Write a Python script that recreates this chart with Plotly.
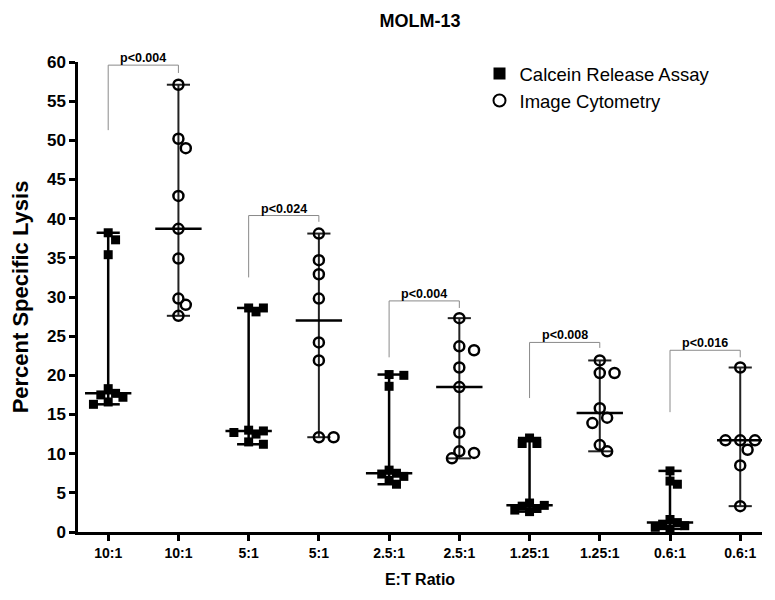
import numpy as np
import plotly.graph_objects as go

# ---------------- data ----------------
categories = ["10:1", "5:1", "2.5:1", "1.25:1", "0.6:1"]
tick_labels = ["10:1", "10:1", "5:1", "5:1", "2.5:1", "2.5:1", "1.25:1", "1.25:1", "0.6:1", "0.6:1"]

calcein_10 = [38.2, 37.3, 35.4, 18.3, 17.7, 17.5, 17.2, 16.6, 16.3]
calcein_5 = [28.6, 28.6, 28.1, 13.0, 12.9, 12.7, 12.5, 11.5, 11.2]
calcein_2_5 = [20.1, 20.0, 18.6, 7.9, 7.5, 7.4, 7.1, 6.6, 6.1]
calcein_1_25 = [12.0, 11.3, 11.3, 3.7, 3.4, 3.3, 3.0, 2.8, 2.6]
calcein_0_6 = [7.8, 6.5, 6.1, 1.6, 1.2, 1.0, 0.8, 0.6, 0.4]

imagecyt_10 = [57.1, 50.2, 49.0, 42.9, 38.7, 34.9, 29.8, 29.0, 27.6]
imagecyt_5 = [38.1, 34.7, 32.9, 29.8, 24.2, 21.9, 12.1, 12.1]
imagecyt_2_5 = [27.3, 23.7, 23.2, 21.0, 18.5, 12.7, 10.3, 10.1, 9.4]
imagecyt_1_25 = [21.9, 20.3, 20.3, 15.8, 14.6, 13.9, 11.1, 10.3]
imagecyt_0_6 = [21.0, 11.7, 11.7, 11.7, 10.5, 8.5, 3.3]

calcein_groups = [calcein_10, calcein_5, calcein_2_5, calcein_1_25, calcein_0_6]
imagecyt_groups = [imagecyt_10, imagecyt_5, imagecyt_2_5, imagecyt_1_25, imagecyt_0_6]

p_labels = ["p<0.004", "p<0.024", "p<0.004", "p<0.008", "p<0.016"]
bracket_top = [59.6, 40.4, 29.5, 24.2, 23.2]
bracket_left_end = [51.3, 32.5, 22.3, 17.1, 15.3]
bracket_right_end = [58.6, 39.6, 28.6, 23.5, 22.3]

# ---------------- layout constants ----------------
W, H = 775, 600
ML, MR, MT, MB = 70, 21, 54, 76
XR = [-0.43, 9.31]
YR = [0, 60]
px_x = (W - ML - MR) / (XR[1] - XR[0])
px_y = (H - MT - MB) / (YR[1] - YR[0])
FONT = "Liberation Sans, Arial, Helvetica, sans-serif"


def swarm(vals, step=0.105, thr=9.5):
    placed, offs = [], []
    for v in vals:
        chosen = 0.0
        for k in [0, 1, -1, 2, -2, 3, -3, 4, -4]:
            off = k * step
            ok = all(((off - po) * px_x) ** 2 + ((v - pv) * px_y) ** 2 >= thr ** 2
                     for po, pv in placed)
            if ok:
                chosen = off
                break
        placed.append((chosen, v))
        offs.append(chosen)
    return offs


fig = go.Figure()


def add_series(groups, xpos_of, name, symbol, msize, mline, line_color, line_w, thr):
    lx, ly = [], []
    medx, medy = [], []
    mx, my = [], []
    for gi, vals in enumerate(groups):
        x0 = xpos_of(gi)
        arr = np.array(vals)
        lo, hi, med = arr.min(), arr.max(), np.median(arr)
        cap, mh = 0.165, 0.33
        lx += [x0, x0, None, x0 - cap, x0 + cap, None, x0 - cap, x0 + cap, None]
        ly += [lo, hi, None, hi, hi, None, lo, lo, None]
        medx += [x0 - mh, x0 + mh, None]
        medy += [med, med, None]
        offs = swarm(vals, thr=thr)
        mx += [x0 + o for o in offs]
        my += list(vals)
    fig.add_trace(go.Scatter(x=lx, y=ly, mode="lines", line=dict(color=line_color, width=line_w),
                             showlegend=False, hoverinfo="skip", cliponaxis=False))
    fig.add_trace(go.Scatter(x=medx, y=medy, mode="lines", line=dict(color="black", width=2.5),
                             showlegend=False, hoverinfo="skip", cliponaxis=False))
    fig.add_trace(go.Scatter(x=mx, y=my, mode="markers", name=name,
                             marker=dict(symbol=symbol, size=msize, color="black",
                                         line=dict(color="black", width=mline)),
                             cliponaxis=False))


add_series(calcein_groups, lambda g: 2 * g, "Calcein Release Assay", "square", 9, 0, "black", 2.5, 8.0)
add_series(imagecyt_groups, lambda g: 2 * g + 1, "Image Cytometry", "circle-open", 10, 2.5, "#222222", 2, 9.5)

# brackets
for i in range(len(p_labels)):
    xl, xr = 2 * i, 2 * i + 1
    for (a, b, c, d) in [(xl, xl, bracket_left_end[i], bracket_top[i]),
                         (xl, xr, bracket_top[i], bracket_top[i]),
                         (xr, xr, bracket_right_end[i], bracket_top[i])]:
        fig.add_shape(type="line", x0=a, x1=b, y0=c, y1=d, line=dict(color="#8a8a8a", width=1))
    fig.add_annotation(x=(xl + xr) / 2, y=bracket_top[i], text=p_labels[i], showarrow=False,
                       yanchor="bottom", yshift=-2,
                       font=dict(family=FONT, size=12.5, color="black", weight="bold"))

fig.update_layout(
    width=W, height=H,
    margin=dict(l=ML, r=MR, t=MT, b=MB, autoexpand=False),
    plot_bgcolor="white", paper_bgcolor="white",
    title=dict(text="<b>MOLM-13</b>", x=0.5, xanchor="center", xref="paper",
               y=1 - 6 / H, yanchor="top", yref="container",
               font=dict(family=FONT, size=18, color="black")),
    font=dict(family=FONT, color="black"),
    legend=dict(x=0.587, y=1.015, xanchor="left", yanchor="top", bgcolor="rgba(0,0,0,0)",
                font=dict(size=18.5, color="black"), itemsizing="constant", tracegroupgap=0),
    showlegend=True,
)
fig.update_xaxes(range=XR, tickmode="array", tickvals=list(range(10)), ticktext=tick_labels,
                 showgrid=False, zeroline=False, showline=True, linecolor="black", linewidth=2.5,
                 ticks="outside", ticklen=6, tickwidth=2.5, tickcolor="black",
                 tickfont=dict(size=14, weight="bold"), automargin=False,
                 title=dict(text="<b>E:T Ratio</b>", font=dict(size=16), standoff=15))
fig.update_yaxes(range=YR, tickmode="array", tickvals=list(range(0, 61, 5)),
                 showgrid=False, zeroline=False, showline=True, linecolor="black", linewidth=2.5,
                 ticks="outside", ticklen=6, tickwidth=2.5, tickcolor="black",
                 tickfont=dict(size=17, weight="bold"), automargin=False,
                 title=dict(text="<b>Percent Specific Lysis</b>", font=dict(size=22), standoff=16))

fig.write_html("out.html")
